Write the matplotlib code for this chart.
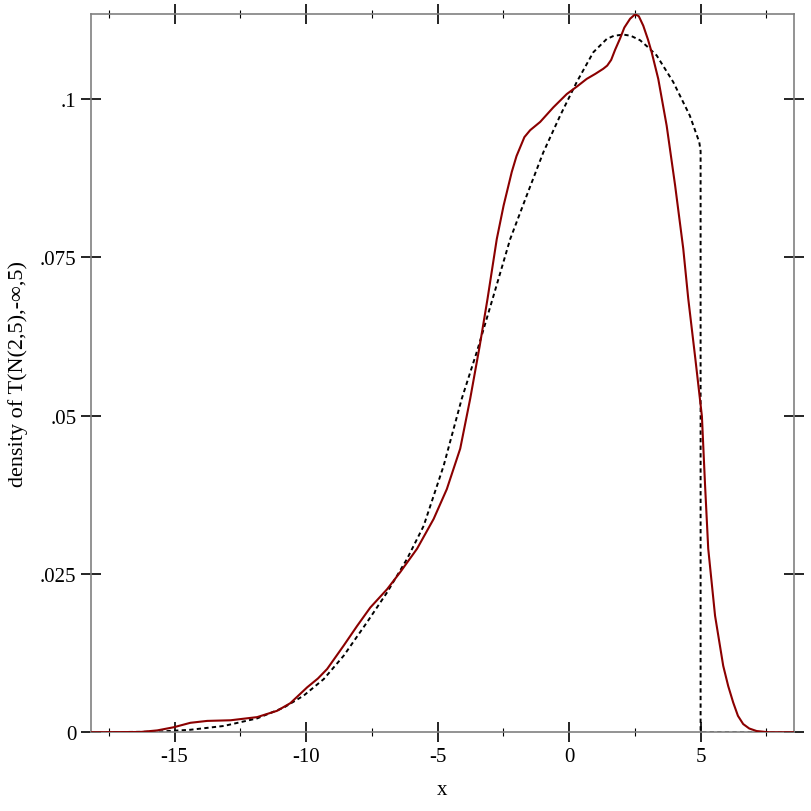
import matplotlib
matplotlib.use("Agg")
import matplotlib.pyplot as plt
from matplotlib.ticker import FixedLocator

plt.rcParams['font.family'] = ['Liberation Serif', 'DejaVu Serif']

# Empirical density (solid dark red)
kde_x = [-18.19, -16.3, -15.66, -15.03, -14.4, -13.76, -12.87, -11.86, -11.1, -10.6,
         -9.96, -9.55, -9.20, -8.57, -8.06, -7.56, -6.92, -6.42, -5.78, -5.15,
         -4.65, -4.14, -3.76, -3.4, -3.10, -2.75, -2.49, -2.18, -2.0, -1.7,
         -1.48, -1.10, -0.60, -0.09, 0.3, 0.67, 1.0, 1.3, 1.45, 1.6,
         1.75, 1.94, 2.1, 2.32, 2.51, 2.65, 2.82, 3.0, 3.14, 3.39,
         3.71, 4.03, 4.34, 4.53, 4.8, 5.05, 5.17, 5.29, 5.55, 5.86,
         6.05, 6.24, 6.42, 6.62, 6.85, 7.13, 7.6, 8.54]
kde_y = [0.0, 0.00005, 0.0003, 0.0008, 0.0015, 0.0018, 0.0019, 0.0024, 0.0034, 0.0046,
         0.0071, 0.0085, 0.0100, 0.0137, 0.0168, 0.0197, 0.0226, 0.0253, 0.0290, 0.0337,
         0.0384, 0.0448, 0.0527, 0.0610, 0.0685, 0.0779, 0.0832, 0.0885, 0.0910, 0.0940,
         0.0951, 0.0964, 0.0987, 0.1008, 0.1020, 0.1032, 0.1040, 0.1048, 0.1053, 0.1062,
         0.1078, 0.1096, 0.1113, 0.1127, 0.1134, 0.1131, 0.1116, 0.1094, 0.1074, 0.1032,
         0.0958, 0.0864, 0.0764, 0.0685, 0.0590, 0.0499, 0.0390, 0.0290, 0.0184, 0.0105,
         0.0073, 0.0047, 0.0026, 0.0013, 0.0006, 0.0002, 0.0, 0.0]

# Theoretical truncated-normal density (dashed black)
pdf_x = [-18.19, -15.66, -14.4, -13.13, -11.86, -10.85, -10.09, -9.33, -8.57, -7.68,
         -6.92, -6.16, -5.53, -4.77, -4.08, -3.5, -2.87, -2.24, -1.61, -0.98,
         -0.34, 0.29, 0.92, 1.43, 1.7, 2.06, 2.35, 2.70, 3.0, 3.33,
         3.96, 4.59, 4.95, 5.0, 5.0, 8.54]
pdf_y = [0.0, 0.0001, 0.0004, 0.0010, 0.0022, 0.0039, 0.0058, 0.0084, 0.0121, 0.0174,
         0.0221, 0.0274, 0.0326, 0.0421, 0.0527, 0.0602, 0.0690, 0.0779, 0.0848, 0.0916,
         0.0974, 0.1027, 0.1074, 0.1095, 0.1100, 0.1102, 0.1100, 0.1093, 0.1082, 0.1069,
         0.1027, 0.0974, 0.0932, 0.0918, 0.0, 0.0]

x_major = [-15, -10, -5, 0, 5]
x_major_labels = ['-15', '-10', '-5', '0', '5']
x_minor = [-17.5, -12.5, -7.5, -2.5, 2.5, 7.5]
y_major = [0, 0.025, 0.05, 0.075, 0.1]
y_major_labels = ['0', '.025', '.05', '.075', '.1']

fig = plt.figure(figsize=(8.12, 8.12), dpi=100)
L, R, T, B = 90.7, 793.7, 15.3, 733.3
ax = fig.add_axes([L / 812, 1 - B / 812, (R - L) / 812, (B - T) / 812])

ax.plot(pdf_x, pdf_y, color='black', lw=1.4, linestyle=(0, (2.2, 1.7)), zorder=2)
ax.plot(kde_x, kde_y, color='#8b0000', lw=1.5, zorder=3, solid_joinstyle='round')

ax.set_xlim(-18.19, 8.54)
ax.set_ylim(0, 0.1134)

ax.xaxis.set_major_locator(FixedLocator(x_major))
ax.set_xticklabels(x_major_labels)
ax.xaxis.set_minor_locator(FixedLocator(x_minor))
ax.yaxis.set_major_locator(FixedLocator(y_major))
ax.set_yticklabels(y_major_labels)

for s in ax.spines.values():
    s.set_color('#808080')
    s.set_linewidth(1.2)

ax.tick_params(which='major', direction='inout', length=14.5, width=1.2, color='black',
               top=True, right=True, labelsize=15, pad=3)
ax.tick_params(which='minor', direction='inout', length=6, width=0.8, color='black',
               top=True, right=True)
ax.tick_params(axis='x', which='major', pad=3)

fig.text(18 / 812, 1 - (T + B) / 2 / 812, 'density of T(N(2,5),-∞,5)', rotation=90,
         ha='center', va='center', fontsize=16)
fig.text((L + R) / 2 / 812, 1 - 791 / 812, 'x', ha='center', va='center', fontsize=15)

fig.savefig('out.png', dpi=100)
